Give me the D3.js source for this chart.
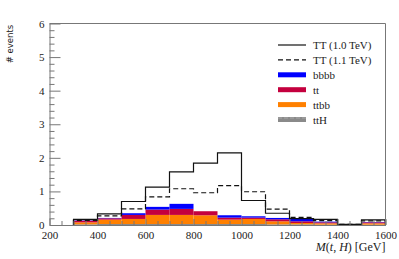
<!DOCTYPE html>
<html>
<head>
<meta charset="utf-8">
<script src="https://cdn.jsdelivr.net/npm/d3@7"></script>
<style>
  body { margin: 0; background: #fff; }
  text { font-family: "Liberation Serif", "DejaVu Serif", serif; fill: #222; }
</style>
</head>
<body>
<div id="chart"></div>
<script>
// bin lower edges (GeV), 100 GeV wide
var binLo = [300, 400, 500, 600, 700, 800, 900, 1000, 1100, 1200, 1300, 1400, 1500];
var binWidth = 100;

// signal curves
var tt10 = [0.17, 0.33, 0.70, 1.13, 1.58, 1.84, 2.15, 0.73, 0.35, 0.19, 0.17, 0.02, 0.15];
var tt11 = [0.14, 0.27, 0.48, 0.84, 1.08, 0.96, 1.17, 0.99, 0.47, 0.23, 0.13, 0.02, 0.12];

// stacked backgrounds (bottom to top)
var ttH  = [0.02, 0.03, 0.03, 0.03, 0.03, 0.03, 0.03, 0.03, 0.02, 0.02, 0.01, 0.005, 0.01];
var ttbb = [0.06, 0.13, 0.15, 0.27, 0.27, 0.26, 0.13, 0.15, 0.09, 0.04, 0.04, 0.01, 0.04];
var tt   = [0.05, 0.04, 0.12, 0.16, 0.18, 0.12, 0.06, 0.04, 0.06, 0.05, 0.03, 0.005, 0.03];
var bbbb = [0.01, 0.01, 0.05, 0.08, 0.15, 0.00, 0.07, 0.04, 0.04, 0.08, 0.02, 0.0, 0.01];

var xTicks = [200, 400, 600, 800, 1000, 1200, 1400, 1600];
var yTicks = [0, 1, 2, 3, 4, 5, 6];

var width = 399, height = 259;
var margin = { top: 23.5, right: 13.5, bottom: 34, left: 49.5 };

var svg = d3.select("#chart")
  .append("svg")
  .attr("width", width)
  .attr("height", height);

var x = d3.scaleLinear().domain([200, 1600]).range([margin.left, width - margin.right]);
var y = d3.scaleLinear().domain([0, 6]).range([height - margin.bottom, margin.top]);

var colors = { ttH: "#8a8a8a", ttbb: "#ff8000", tt: "#c4003e", bbbb: "#0000ff" };

// stacked bars
var rows = binLo.map(function (b, i) {
  return { lo: b, ttH: ttH[i], ttbb: ttbb[i], tt: tt[i], bbbb: bbbb[i] };
});
var stack = d3.stack().keys(["ttH", "ttbb", "tt", "bbbb"])(rows);

stack.forEach(function (layer) {
  svg.append("g")
    .selectAll("rect")
    .data(layer)
    .enter()
    .append("rect")
    .attr("x", function (d) { return x(d.data.lo); })
    .attr("width", function (d) { return x(d.data.lo + binWidth) - x(d.data.lo); })
    .attr("y", function (d) { return y(d[1]); })
    .attr("height", function (d) { return Math.max(0, y(d[0]) - y(d[1])); })
    .attr("fill", colors[layer.key]);
});

// step histograms
function stepPoints(vals) {
  var pts = [[binLo[0], 0]];
  vals.forEach(function (v, i) {
    pts.push([binLo[i], v]);
    pts.push([binLo[i] + binWidth, v]);
  });
  pts.push([binLo[binLo.length - 1] + binWidth, 0]);
  return pts;
}
var line = d3.line()
  .x(function (d) { return x(d[0]); })
  .y(function (d) { return y(d[1]); });

svg.append("path")
  .attr("d", line(stepPoints(tt11)))
  .attr("fill", "none")
  .attr("stroke", "#111")
  .attr("stroke-width", 1.2)
  .attr("stroke-dasharray", "5,3");

svg.append("path")
  .attr("d", line(stepPoints(tt10)))
  .attr("fill", "none")
  .attr("stroke", "#111")
  .attr("stroke-width", 1.2);

// axes
var axisColor = "#777";
var serif = "'Liberation Serif', 'DejaVu Serif', serif";

// minor x ticks every 50
var xMinor = svg.append("g")
  .attr("transform", "translate(0," + y(0) + ")")
  .call(d3.axisBottom(x).tickValues(d3.range(250, 1600, 50).filter(function (v) { return v % 200 != 0; }))
    .tickSizeInner(-4).tickSizeOuter(0).tickFormat(""));
xMinor.select(".domain").remove();
xMinor.selectAll("line").attr("stroke", axisColor);

var xAxis = svg.append("g")
  .attr("transform", "translate(0," + y(0) + ")")
  .attr("font-family", serif)
  .call(d3.axisBottom(x).tickValues(xTicks).tickFormat(d3.format("d"))
    .tickSizeInner(-6).tickSizeOuter(0).tickPadding(6));
xAxis.attr("font-family", serif).attr("font-size", 11);
xAxis.select(".domain").attr("stroke", axisColor);
xAxis.selectAll("line").attr("stroke", axisColor);

// minor y ticks every 0.2
var yMinor = svg.append("g")
  .attr("transform", "translate(" + x(200) + ",0)")
  .call(d3.axisLeft(y).tickValues(d3.range(0, 30).map(function (i) { return i * 0.2; }).filter(function (v, i) { return i % 5 != 0; }))
    .tickSizeInner(-5).tickSizeOuter(0).tickFormat(""));
yMinor.select(".domain").remove();
yMinor.selectAll("line").attr("stroke", axisColor);

var yAxis = svg.append("g")
  .attr("transform", "translate(" + x(200) + ",0)")
  .call(d3.axisLeft(y).tickValues(yTicks).tickFormat(d3.format("d"))
    .tickSizeInner(-11).tickSizeOuter(0).tickPadding(5));
yAxis.attr("font-family", serif).attr("font-size", 11);
yAxis.select(".domain").attr("stroke", axisColor);
yAxis.selectAll("line").attr("stroke", axisColor);

// frame: top and right
svg.append("line")
  .attr("x1", x(200)).attr("x2", x(1600))
  .attr("y1", y(6)).attr("y2", y(6))
  .attr("stroke", axisColor);
svg.append("line")
  .attr("x1", x(1600)).attr("x2", x(1600))
  .attr("y1", y(6)).attr("y2", y(0))
  .attr("stroke", axisColor);

// axis titles
svg.append("text")
  .attr("x", x(1600))
  .attr("y", 251)
  .attr("text-anchor", "end")
  .style("font-size", "12px")
  .html('<tspan font-style="italic">M</tspan>(<tspan font-style="italic">t</tspan>, <tspan font-style="italic">H</tspan>) [GeV]');

svg.append("text")
  .attr("transform", "translate(13,44) rotate(-90)")
  .attr("text-anchor", "middle")
  .style("font-family", "DejaVu Sans")
  .style("font-size", "8.5px")
  .text("# events");

// legend
var legendItems = [
  { name: "TT (1.0 TeV)", type: "solid" },
  { name: "TT (1.1 TeV)", type: "dashed" },
  { name: "bbbb", type: "fill", color: colors.bbbb },
  { name: "tt", type: "fill", color: colors.tt },
  { name: "ttbb", type: "fill", color: colors.ttbb },
  { name: "ttH", type: "hatch", color: colors.ttH }
];
var legend = svg.append("g").attr("transform", "translate(278,45)");
legendItems.forEach(function (d, i) {
  var g = legend.append("g").attr("transform", "translate(0," + (i * 14.9) + ")");
  if (d.type == "solid" || d.type == "dashed") {
    g.append("line")
      .attr("x1", 0).attr("x2", 28).attr("y1", 0).attr("y2", 0)
      .attr("stroke", "#111").attr("stroke-width", 1.2)
      .attr("stroke-dasharray", d.type == "dashed" ? "5,3" : null);
  } else {
    g.append("rect")
      .attr("x", 0).attr("y", -2.5).attr("width", 28).attr("height", 5)
      .attr("fill", d.color);
    if (d.type == "hatch") {
      g.append("line")
        .attr("x1", 0).attr("x2", 28).attr("y1", -1.5).attr("y2", -1.5)
        .attr("stroke", "#a8a8a8").attr("stroke-width", 1.2)
        .attr("stroke-dasharray", "4,2");
    }
  }
  g.append("text")
    .attr("x", 35)
    .attr("y", 4)
    .style("font-size", "11px")
    .text(d.name);
});
</script>
</body>
</html>
